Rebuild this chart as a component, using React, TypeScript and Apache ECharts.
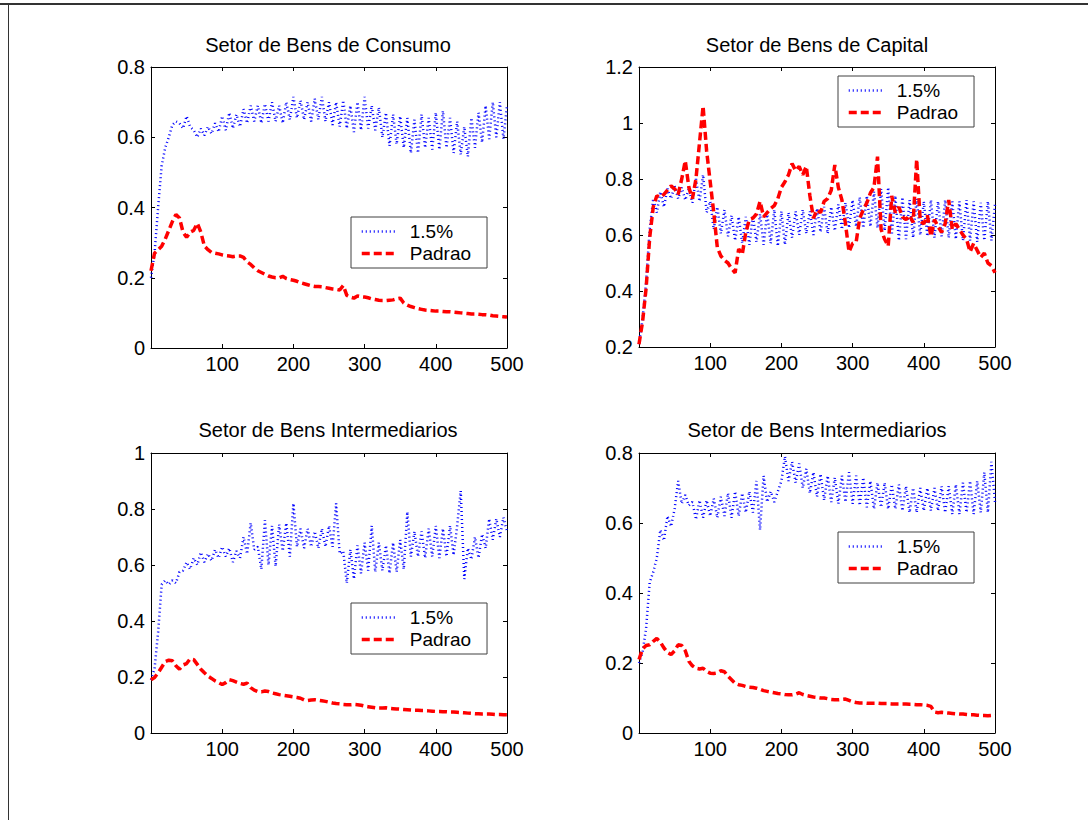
import React, { useEffect, useRef } from "react";
import * as echarts from "echarts";

// Simulated sector shares, sampled every STEP periods over 0..500.
const STEP = 5;
const SERIES_NAMES = ["1.5%", "Padrao"];
const TITLES = [
  "Setor de Bens de Consumo",
  "Setor de Bens de Capital",
  "Setor de Bens Intermediarios",
  "Setor de Bens Intermediarios",
];
const X_MAX = 500;
const X_TICK = 100;
const Y_RANGES: [number, number][] = [
  [0, 0.8],
  [0.2, 1.2],
  [0, 1],
  [0, 0.8],
];
const Y_TICK = 0.2;

const consumo15 = [
  0.2, 0.27, 0.4, 0.52, 0.57, 0.6, 0.635, 0.645, 0.64, 0.625,
  0.66, 0.63, 0.62, 0.6, 0.625, 0.605, 0.63, 0.61, 0.64, 0.615,
  0.66, 0.62, 0.67, 0.625, 0.665, 0.63, 0.68, 0.64, 0.69, 0.645,
  0.69, 0.64, 0.695, 0.645, 0.7, 0.645, 0.69, 0.64, 0.7, 0.65,
  0.715, 0.655, 0.705, 0.65, 0.7, 0.645, 0.71, 0.65, 0.715, 0.645,
  0.7, 0.635, 0.7, 0.63, 0.705, 0.625, 0.69, 0.615, 0.7, 0.62,
  0.715, 0.625, 0.69, 0.62, 0.685, 0.6, 0.67, 0.575, 0.665, 0.58,
  0.66, 0.57, 0.655, 0.555, 0.65, 0.555, 0.665, 0.57, 0.655, 0.565,
  0.67, 0.565, 0.675, 0.57, 0.655, 0.555, 0.645, 0.55, 0.63, 0.545,
  0.655, 0.57, 0.67, 0.585, 0.69, 0.595, 0.7, 0.6, 0.7, 0.595,
  0.69,
];
const consumoPadrao = [
  0.22, 0.27, 0.28, 0.29, 0.31, 0.335, 0.36, 0.38, 0.37, 0.33,
  0.315, 0.33, 0.335, 0.355, 0.33, 0.29, 0.28, 0.272, 0.27, 0.268,
  0.265, 0.263, 0.262, 0.26, 0.262, 0.262, 0.258, 0.245, 0.238, 0.228,
  0.22, 0.215, 0.21, 0.205, 0.202, 0.2, 0.2, 0.204, 0.198, 0.195,
  0.193, 0.19, 0.186, 0.183, 0.18, 0.177, 0.175, 0.175, 0.174, 0.172,
  0.17, 0.168, 0.167, 0.165, 0.178, 0.15, 0.145, 0.142, 0.148, 0.146,
  0.145, 0.143, 0.14, 0.138, 0.136, 0.135, 0.135, 0.136, 0.137, 0.14,
  0.142, 0.128, 0.122, 0.118, 0.115, 0.112, 0.11, 0.108, 0.107, 0.106,
  0.105, 0.105, 0.104, 0.103, 0.103, 0.102, 0.101, 0.1, 0.099, 0.098,
  0.097, 0.097, 0.096, 0.095, 0.095, 0.094, 0.092, 0.091, 0.09, 0.089,
  0.088,
];

const capital15 = [
  0.21, 0.3, 0.43, 0.62, 0.73, 0.68, 0.755, 0.7, 0.765, 0.73,
  0.775, 0.73, 0.77, 0.725, 0.765, 0.715, 0.8, 0.72, 0.815, 0.68,
  0.72, 0.62, 0.7, 0.605, 0.69, 0.595, 0.67, 0.58, 0.665, 0.57,
  0.665, 0.565, 0.67, 0.575, 0.675, 0.565, 0.68, 0.57, 0.69, 0.56,
  0.685, 0.565, 0.68, 0.59, 0.685, 0.6, 0.69, 0.605, 0.685, 0.6,
  0.695, 0.61, 0.7, 0.605, 0.7, 0.615, 0.71, 0.62, 0.715, 0.625,
  0.725, 0.63, 0.735, 0.625, 0.74, 0.63, 0.755, 0.625, 0.765, 0.615,
  0.77, 0.6, 0.74, 0.58, 0.735, 0.585, 0.725, 0.59, 0.73, 0.6,
  0.72, 0.595, 0.725, 0.59, 0.72, 0.595, 0.725, 0.59, 0.72, 0.585,
  0.72, 0.58, 0.725, 0.58, 0.72, 0.575, 0.715, 0.58, 0.72, 0.58,
  0.71,
];
const capitalPadrao = [
  0.21, 0.29, 0.41, 0.59, 0.7, 0.74, 0.735, 0.745, 0.76, 0.775,
  0.765, 0.745, 0.8, 0.865, 0.77, 0.73, 0.8, 0.93, 1.06, 0.9,
  0.79, 0.68, 0.555, 0.525, 0.51, 0.5, 0.48, 0.465, 0.55, 0.53,
  0.61, 0.655, 0.66, 0.675, 0.72, 0.665, 0.68, 0.695, 0.705, 0.73,
  0.77, 0.79, 0.815, 0.855, 0.83, 0.845, 0.815, 0.845, 0.74, 0.66,
  0.69, 0.68, 0.72, 0.73, 0.76, 0.85, 0.77, 0.725, 0.64, 0.54,
  0.57, 0.575, 0.66, 0.69, 0.715, 0.75, 0.77, 0.88, 0.62, 0.585,
  0.56, 0.74, 0.68, 0.7, 0.665, 0.655, 0.67, 0.645, 0.87, 0.65,
  0.64, 0.67, 0.595, 0.655, 0.63, 0.61, 0.64, 0.725, 0.62, 0.64,
  0.62, 0.6, 0.585, 0.54, 0.57, 0.545, 0.52, 0.535, 0.5, 0.49,
  0.465,
];

const intermediarios15A = [
  0.19, 0.23, 0.36, 0.53, 0.545, 0.53, 0.545, 0.535, 0.575, 0.58,
  0.61, 0.585, 0.625, 0.6, 0.645, 0.61, 0.64, 0.615, 0.655, 0.625,
  0.665, 0.63, 0.66, 0.61, 0.65, 0.625, 0.7, 0.64, 0.75, 0.655,
  0.665, 0.585, 0.76, 0.6, 0.74, 0.595, 0.745, 0.65, 0.75, 0.63,
  0.82, 0.665, 0.73, 0.66, 0.73, 0.665, 0.72, 0.66, 0.73, 0.665,
  0.74, 0.665, 0.82, 0.64, 0.65, 0.535, 0.655, 0.55, 0.67, 0.57,
  0.68, 0.58, 0.74, 0.575, 0.68, 0.58, 0.67, 0.57, 0.68, 0.575,
  0.69, 0.585, 0.79, 0.63, 0.72, 0.63, 0.72, 0.625, 0.73, 0.63,
  0.74, 0.625, 0.73, 0.63, 0.74, 0.635, 0.74, 0.865, 0.55, 0.66,
  0.62, 0.7, 0.625, 0.71, 0.66, 0.765, 0.69, 0.765, 0.7, 0.77,
  0.72,
];
const intermediariosPadraoA = [
  0.19, 0.198, 0.215, 0.235, 0.255, 0.26, 0.258, 0.24, 0.228, 0.243,
  0.248, 0.265, 0.262, 0.245, 0.228, 0.215, 0.203, 0.195, 0.186, 0.18,
  0.173, 0.18, 0.19, 0.187, 0.182, 0.177, 0.174, 0.178, 0.162, 0.153,
  0.148, 0.147, 0.15, 0.148, 0.143, 0.14, 0.137, 0.135, 0.133, 0.131,
  0.129, 0.127, 0.124, 0.118, 0.116, 0.118, 0.119, 0.117, 0.115, 0.113,
  0.11, 0.107, 0.105, 0.104, 0.102, 0.101, 0.101, 0.102, 0.101, 0.099,
  0.096, 0.094, 0.092, 0.09, 0.089, 0.089, 0.09, 0.088, 0.087, 0.086,
  0.085, 0.084, 0.083, 0.082, 0.081, 0.081, 0.08, 0.08, 0.079, 0.078,
  0.077, 0.077, 0.076, 0.076, 0.075, 0.075, 0.074, 0.073, 0.072, 0.071,
  0.07, 0.069, 0.069, 0.068, 0.068, 0.068, 0.067, 0.066, 0.066, 0.065,
  0.065,
];

const intermediarios15B = [
  0.2, 0.23, 0.3, 0.43, 0.46, 0.5, 0.58, 0.55, 0.62, 0.59,
  0.64, 0.72, 0.655, 0.68, 0.65, 0.66, 0.61, 0.665, 0.615, 0.665,
  0.62, 0.67, 0.615, 0.675, 0.62, 0.685, 0.615, 0.69, 0.62, 0.685,
  0.63, 0.69, 0.63, 0.72, 0.58, 0.735, 0.66, 0.69, 0.66, 0.69,
  0.72, 0.79, 0.72, 0.775, 0.715, 0.77, 0.7, 0.755, 0.685, 0.745,
  0.675, 0.74, 0.665, 0.735, 0.66, 0.73, 0.655, 0.735, 0.66, 0.745,
  0.655, 0.735, 0.65, 0.73, 0.645, 0.72, 0.64, 0.715, 0.645, 0.715,
  0.64, 0.71, 0.64, 0.71, 0.635, 0.705, 0.63, 0.7, 0.63, 0.7,
  0.635, 0.7, 0.635, 0.7, 0.635, 0.705, 0.63, 0.705, 0.625, 0.71,
  0.625, 0.715, 0.63, 0.72, 0.625, 0.72, 0.63, 0.745, 0.63, 0.775,
  0.66,
];
const intermediariosPadraoB = [
  0.21, 0.24, 0.25, 0.252, 0.262, 0.27, 0.26, 0.243, 0.23, 0.224,
  0.235, 0.252, 0.25, 0.235, 0.205, 0.192, 0.185, 0.183, 0.185, 0.176,
  0.171, 0.17, 0.172, 0.178, 0.175, 0.162, 0.152, 0.142, 0.138, 0.136,
  0.133, 0.131, 0.13, 0.128, 0.125, 0.121, 0.119, 0.117, 0.115, 0.113,
  0.112, 0.11, 0.109, 0.109, 0.111, 0.115, 0.11, 0.107, 0.105, 0.103,
  0.102, 0.1, 0.1, 0.098, 0.096, 0.095, 0.095, 0.096, 0.097, 0.093,
  0.089, 0.087, 0.086, 0.086, 0.085, 0.085, 0.085, 0.085, 0.084, 0.084,
  0.084, 0.083, 0.083, 0.083, 0.083, 0.083, 0.082, 0.082, 0.081, 0.081,
  0.08, 0.079, 0.076, 0.06, 0.058, 0.059, 0.058, 0.057, 0.056, 0.055,
  0.054, 0.054, 0.053, 0.052, 0.052, 0.051, 0.05, 0.05, 0.049, 0.05,
  0.051,
];

const PANEL_SERIES = [
  [consumo15, consumoPadrao],
  [capital15, capitalPadrao],
  [intermediarios15A, intermediariosPadraoA],
  [intermediarios15B, intermediariosPadraoB],
];

// Layout of the 2x2 figure
const FONT = "'Liberation Sans', Arial, Helvetica, sans-serif";
const FONT_SIZE = 20;
const LEGEND_FONT_SIZE = 19;
const GRIDS = [
  { left: 151, top: 67, width: 356, height: 281 },
  { left: 639, top: 67, width: 356, height: 280 },
  { left: 151, top: 453, width: 356, height: 280 },
  { left: 639, top: 453, width: 356, height: 280 },
];
const TITLE_POS = [
  { x: 328, y: 35 },
  { x: 817, y: 35 },
  { x: 328, y: 420 },
  { x: 817, y: 420 },
];
const LEGEND_POS = [
  { left: 351, top: 217 },
  { left: 838, top: 76 },
  { left: 351, top: 603 },
  { left: 838, top: 532 },
];
const LINE_STYLES = [
  { color: "#0000ff", width: 2.5, type: [1, 3] },
  { color: "#ff0000", width: 3.5, type: [8, 4] },
];

const toPoints = (values: number[]) => values.map((v, i) => [i * STEP, v]);

function buildOption() {
  const xAxis: any[] = [];
  const yAxis: any[] = [];
  const series: any[] = [];

  const tickStyle = { inside: true, length: 4, lineStyle: { color: "#000", width: 1 } };
  const lineStyle = { show: true, onZero: false, lineStyle: { color: "#000", width: 1 } };
  const labelStyle = { color: "#000", fontSize: FONT_SIZE, fontFamily: FONT, margin: 6 };

  GRIDS.forEach((_, i) => {
    const [yMin, yMax] = Y_RANGES[i];
    const xBase = { type: "value", gridIndex: i, min: 0, max: X_MAX, interval: X_TICK, splitLine: { show: false }, axisLine: lineStyle, axisTick: tickStyle };
    const yBase = { type: "value", gridIndex: i, min: yMin, max: yMax, interval: Y_TICK, splitLine: { show: false }, axisLine: lineStyle, axisTick: tickStyle };
    xAxis.push({
      ...xBase,
      position: "bottom",
      axisLabel: { ...labelStyle, formatter: (v: number) => (v === 0 ? "" : String(v)) },
    });
    xAxis.push({ ...xBase, position: "top", axisLabel: { show: false } });
    yAxis.push({ ...yBase, position: "left", axisLabel: { ...labelStyle } });
    yAxis.push({ ...yBase, position: "right", axisLabel: { show: false } });

    PANEL_SERIES[i].forEach((values, k) => {
      series.push({
        type: "line",
        name: SERIES_NAMES[k],
        xAxisIndex: i * 2,
        yAxisIndex: i * 2,
        data: toPoints(values),
        symbol: "none",
        smooth: false,
        color: LINE_STYLES[k].color,
        lineStyle: LINE_STYLES[k],
        itemStyle: { color: LINE_STYLES[k].color },
        z: 2 + k,
      });
    });
  });

  return {
    animation: false,
    backgroundColor: "#ffffff",
    grid: GRIDS.map((g) => ({ ...g, containLabel: false })),
    title: TITLES.map((t, i) => ({
      text: t,
      left: TITLE_POS[i].x,
      top: TITLE_POS[i].y,
      textAlign: "center",
      padding: 0,
      textStyle: { fontSize: FONT_SIZE, fontWeight: "normal", color: "#000", fontFamily: FONT },
    })),
    legend: LEGEND_POS.map((p) => ({
      data: SERIES_NAMES.map((name, k) => ({ name, lineStyle: { ...LINE_STYLES[k] } })),
      orient: "vertical",
      left: p.left,
      top: p.top,
      padding: [5, 16, 5, 9],
      itemWidth: 33,
      itemHeight: 12,
      itemGap: 3,
      borderColor: "#404040",
      borderWidth: 1,
      borderRadius: 0,
      backgroundColor: "#ffffff",
      selectedMode: false,
      itemStyle: { opacity: 0 },
      textStyle: { fontSize: LEGEND_FONT_SIZE, color: "#000", fontFamily: FONT, padding: [0, 0, 0, 10] },
    })),
    graphic: [
      { type: "line", shape: { x1: 0, y1: 4, x2: 1088, y2: 4 }, style: { stroke: "#333", lineWidth: 2 } },
      { type: "line", shape: { x1: 8.5, y1: 4, x2: 8.5, y2: 820 }, style: { stroke: "#333", lineWidth: 1 } },
    ],
    xAxis,
    yAxis,
    series,
  };
}

export default function App() {
  const ref = useRef<HTMLDivElement>(null);
  useEffect(() => {
    document.body.style.margin = "0";
    const chart = echarts.init(ref.current!, undefined, { renderer: "svg" });
    chart.setOption(buildOption() as any);
    return () => chart.dispose();
  }, []);
  return <div ref={ref} style={{ width: 1088, height: 820, background: "#fff" }} />;
}
